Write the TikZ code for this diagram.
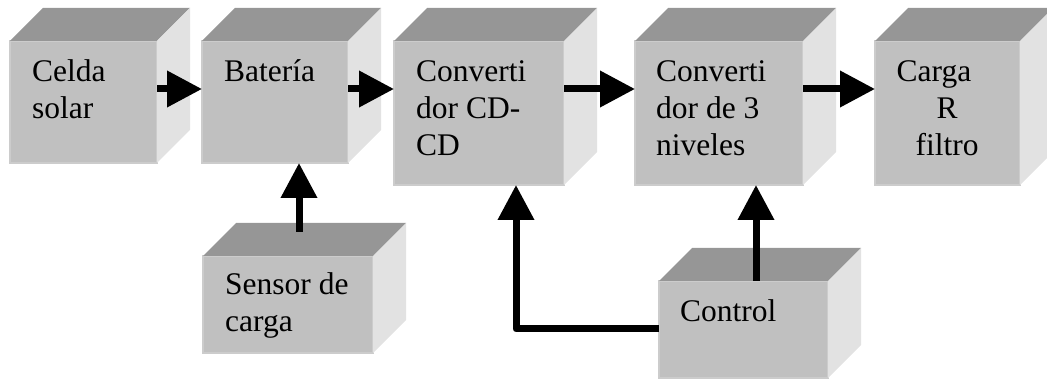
\documentclass[tikz,border=0pt]{standalone}
\usepackage{fontspec}
\setmainfont{Liberation Serif}
\usetikzlibrary{arrows.meta,calc}
\definecolor{frontc}{RGB}{192,192,192}
\definecolor{topc}{RGB}{150,150,150}
\definecolor{sidec}{RGB}{226,226,226}
\definecolor{edgec}{RGB}{204,204,204}
\newcommand\cubefaces[1]{%
  \fill[topc] (#1.north west) -- ++(33,-33) -- ($(#1.north east)+(33,-33)$) -- (#1.north east) -- cycle;
  \fill[sidec] (#1.north east) -- ++(33,-33) -- ($(#1.south east)+(33,-33)$) -- (#1.south east) -- cycle;}
\begin{document}
\begin{tikzpicture}[x=1pt,y=-1pt,
  face/.style={fill=frontc, draw=edgec, line width=1.5pt, inner sep=0pt, outer sep=0pt, anchor=north west},
  lbl/.style={anchor=base west, inner sep=0pt, font=\fontsize{31.5}{36.7}\selectfont},
  arr/.style={line width=7pt, line join=round, -{Triangle[length=35pt,width=35pt]}}]
\useasboundingbox (0,0) rectangle (1047,379);
\clip (0,0) rectangle (1047,379);
% front faces
\node[face, minimum width=147pt, minimum height=122pt] (b1) at (10,41) {};
\node[face, minimum width=146pt, minimum height=122pt] (b2) at (202,41) {};
\node[face, minimum width=170pt, minimum height=144pt] (b3) at (394,41) {};
\node[face, minimum width=168pt, minimum height=144pt] (b4) at (635,41) {};
\node[face, minimum width=145pt, minimum height=144pt] (b5) at (875,41) {};
\node[face, minimum width=170pt, minimum height=97pt] (sen) at (203,256) {};
\node[face, minimum width=169pt, minimum height=97pt] (ctl) at (659,281) {};
\cubefaces{b1}\cubefaces{b2}\cubefaces{b3}\cubefaces{b4}\cubefaces{b5}\cubefaces{sen}\cubefaces{ctl}
% texts
\node[lbl] (t1) at (32,82) {\parbox[t]{150pt}{\raggedright Celda\\solar}};
\node[lbl] (t2) at (224,82) {\parbox[t]{150pt}{\raggedright Batería}};
\node[lbl] (t3) at (416,82) {\parbox[t]{150pt}{\raggedright Converti\\dor CD-\\CD}};
\node[lbl] (t4) at (656,82) {\parbox[t]{150pt}{\raggedright Converti\\dor de 3\\niveles}};
\node[lbl, anchor=base] (t5) at (947,82) {\parbox[t]{140pt}{\centering Carga\kern26pt\\R\\filtro}};
\node[lbl] (t6) at (225,295) {\parbox[t]{150pt}{\raggedright Sensor de\\carga}};
\node[lbl] (t7) at (680,322) {\parbox[t]{150pt}{\raggedright Control}};
% connectors
\coordinate (ay) at (0,89);
\draw[arr] (b1.east |- ay) -- (b2.west |- ay);
\draw[arr] (b2.east |- ay) -- (b3.west |- ay);
\draw[arr] (b3.east |- ay) -- (b4.west |- ay);
\draw[arr] (b4.east |- ay) -- (b5.west |- ay);
\coordinate (sx) at (299,232);
\draw[arr] (sx) -- (sx |- b2.south);
\coordinate (cx) at (756,0);
\draw[arr] (ctl.north -| cx) -- (cx |- b4.south);
\coordinate (ly) at (0,329);
\coordinate (lx) at (516,0);
\draw[arr] (ctl.west |- ly) -| (lx |- b3.south);
\end{tikzpicture}
\end{document}
